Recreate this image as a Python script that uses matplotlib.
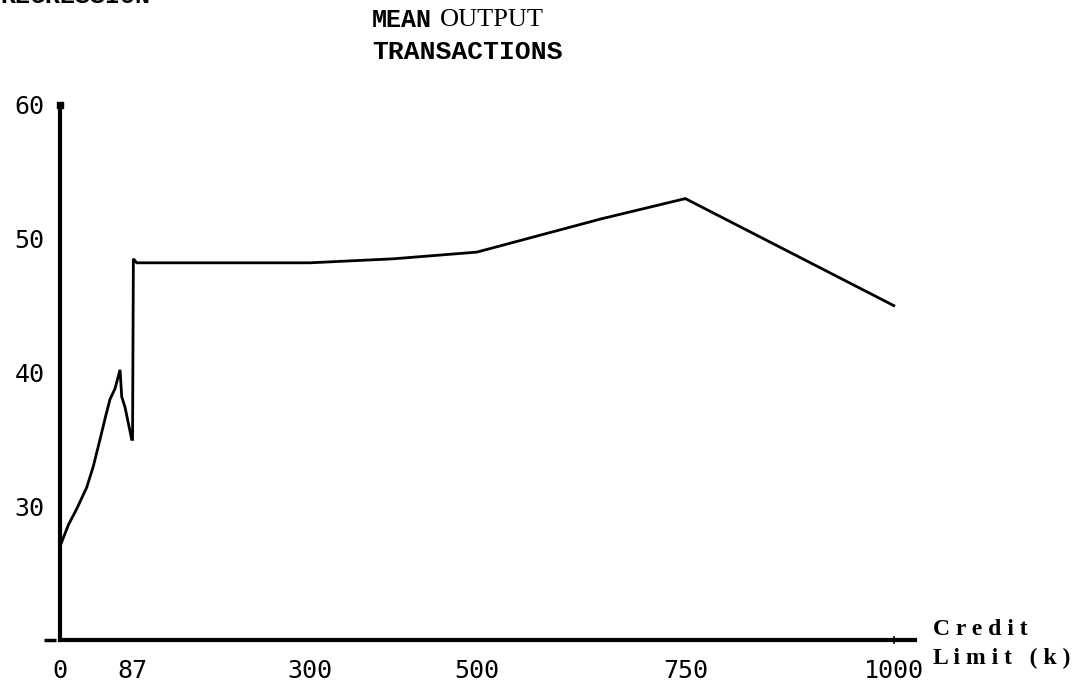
import matplotlib.pyplot as plt
import numpy as np

# credit limit (k) vs mean output transactions
credit_limit = [0, 10, 20, 32, 40, 48, 55, 60, 66, 72, 74, 78, 82, 86, 87, 88, 92,
                150, 300, 400, 500, 560, 650, 750, 850, 1000]
mean_output = [27.0, 28.6, 29.8, 31.4, 33.0, 35.0, 36.8, 38.0, 38.8, 40.2, 38.2, 37.4, 36.2, 35.0,
               35.0, 48.5, 48.2, 48.2, 48.2, 48.5, 49.0, 50.0, 51.5, 53.0, 49.8, 45.0]

x_ticks = [0, 87, 300, 500, 750, 1000]
x_labels = ["0", "87", "300", "500", "750", "1000"]
y_ticks = [30, 40, 50, 60]

fig = plt.figure(figsize=(10.87, 6.86), dpi=100)
ax = fig.add_axes([0.0552, 0.067, 0.787, 0.780])

ax.plot(credit_limit, mean_output, color='black', linewidth=2, solid_joinstyle='miter')

ax.set_xlim(0, 1026)
ax.set_ylim(20, 60)

for side in ['top', 'right']:
    ax.spines[side].set_visible(False)
for side in ['left', 'bottom']:
    ax.spines[side].set_linewidth(3)

ax.set_xticks(x_ticks)
ax.set_xticklabels(x_labels, fontsize=18, family='DejaVu Sans Mono')
ax.set_yticks(y_ticks)
ax.set_yticklabels([str(v) for v in y_ticks], fontsize=18, family='DejaVu Sans Mono')
ax.tick_params(length=0, pad=11)
ax.tick_params(axis='x', pad=14)

# little marks from the original: square at 60, dash at 20, bump at 1000
ax.plot([0], [60], marker='s', color='black', markersize=5, clip_on=False)
ax.plot([-12], [20], marker='_', color='black', markersize=8, mew=2.5, clip_on=False)
ax.plot([1000], [20], marker='|', color='black', markersize=6, mew=1.2, clip_on=False)

ax.text(1.021, 0.0, "C r e d i t", transform=ax.transAxes, fontsize=17,
        family='Liberation Serif', fontweight='bold', ha='left', va='bottom')
ax.text(1.021, -0.015, "L i m i t   ( k )", transform=ax.transAxes, fontsize=17,
        family='Liberation Serif', fontweight='bold', ha='left', va='top')

# heading cut off by the top edge of the scan, only its foot shows
fig.text(0.0, 1 - 3 / 686, "REGRESSION", fontsize=18, family='Liberation Mono',
         fontweight='bold', ha='left', va='baseline')

fig.text(0.342, 1 - 20 / 686, "MEAN", fontsize=18, family='Liberation Mono', fontweight='bold',
         ha='left', va='center')
fig.text(0.405, 1 - 20 / 686, "OUTPUT", fontsize=19, family='Liberation Serif',
         ha='left', va='center')
fig.text(0.342, 1 - 52 / 686, "TRANSACTIONS", fontsize=19, family='Liberation Mono',
         fontweight='bold', ha='left', va='center')

fig.savefig('out.png', dpi=100)
